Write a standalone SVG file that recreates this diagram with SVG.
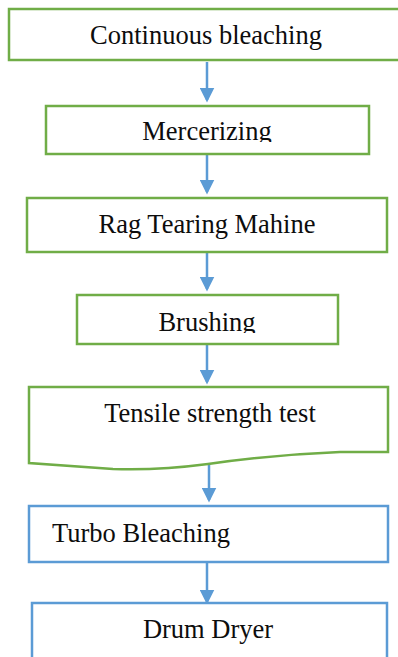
<svg xmlns="http://www.w3.org/2000/svg" width="398" height="657" viewBox="0 0 398 657">
  <style>
    .g { fill: #ffffff; stroke: #70AD47; stroke-width: 2.5; }
    .b { fill: #ffffff; stroke: #5B9BD5; stroke-width: 2.5; }
    .t { font-family: "Liberation Serif", "Times New Roman", serif; font-size: 26.5px; fill: #0d0d0d; }
    .c { text-anchor: middle; }
    .link { stroke: #5B9BD5; stroke-width: 2.5; fill: none; marker-end: url(#arrow); }
  </style>
  <defs>
    <marker id="arrow" markerWidth="6" markerHeight="6" refX="5" refY="3" orient="auto" markerUnits="strokeWidth">
      <path d="M0,0 L6,3 L0,6 Z" fill="#5B9BD5"/>
    </marker>
    <clipPath id="clipMerc"><rect x="46" y="106" width="323" height="36"/></clipPath>
    <clipPath id="clipBrush"><rect x="77" y="295" width="261" height="38"/></clipPath>
  </defs>
  <rect width="398" height="657" fill="#ffffff"/>

  <g id="connectors">
    <line class="link" x1="207" y1="62" x2="207" y2="100"/>
    <line class="link" x1="207" y1="155" x2="207" y2="192"/>
    <line class="link" x1="207" y1="253" x2="207" y2="289"/>
    <line class="link" x1="207" y1="345" x2="207" y2="382"/>
    <line class="link" x1="209" y1="465" x2="209" y2="500"/>
    <line class="link" x1="207" y1="563" x2="207" y2="602"/>
  </g>

  <g id="continuous-bleaching">
    <rect class="g" x="9" y="9" width="395" height="51"/>
    <text class="t c" x="206" y="44">Continuous bleaching</text>
  </g>

  <g id="mercerizing">
    <rect class="g" x="46" y="106" width="323" height="48"/>
    <text class="t c" x="207" y="140" clip-path="url(#clipMerc)">Mercerizing</text>
  </g>

  <g id="rag-tearing">
    <rect class="g" x="27" y="198" width="360" height="54"/>
    <text class="t c" x="207" y="233">Rag Tearing Mahine</text>
  </g>

  <g id="brushing">
    <rect class="g" x="77" y="295" width="261" height="49"/>
    <text class="t c" x="207" y="331" clip-path="url(#clipBrush)">Brushing</text>
  </g>

  <g id="tensile-test">
    <path class="g" d="M29,387 L388,387 L388,452 L340,452 C290,454 250,458 208,464 C170,469 140,470 113,469 L29,463 Z"/>
    <text class="t c" x="210" y="422">Tensile strength test</text>
  </g>

  <g id="turbo-bleaching">
    <rect class="b" x="29" y="506" width="359" height="56"/>
    <text class="t" x="52" y="542">Turbo Bleaching</text>
  </g>

  <g id="drum-dryer">
    <rect class="b" x="32" y="603" width="355" height="70"/>
    <text class="t c" x="208" y="638">Drum Dryer</text>
  </g>
</svg>
